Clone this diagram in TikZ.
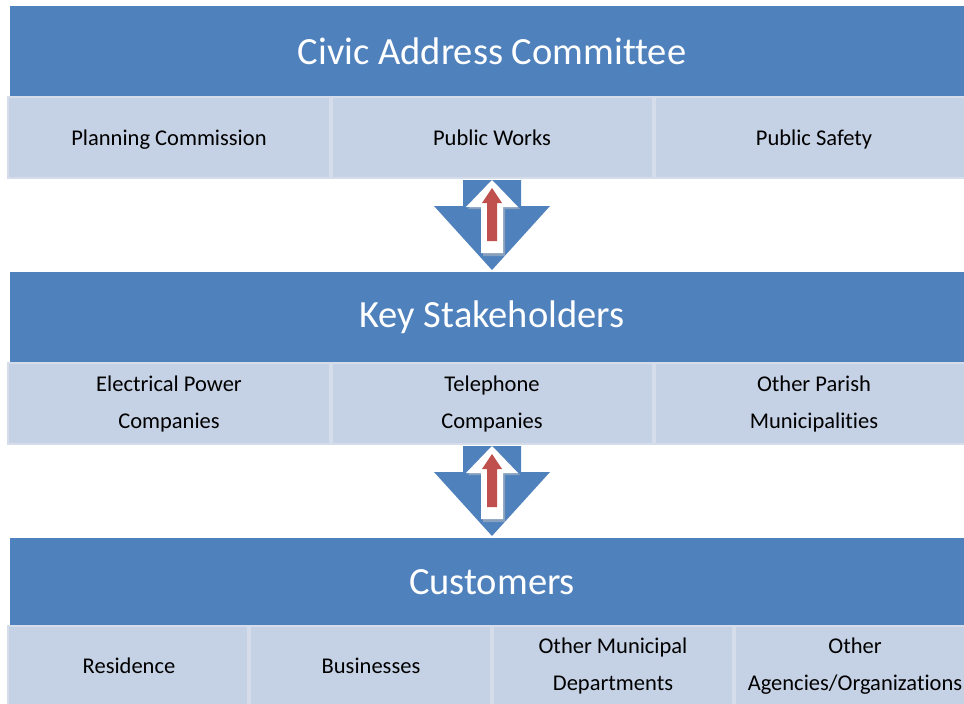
\documentclass[tikz,border=0pt]{standalone}
\usepackage{fontspec}
\setmainfont{Carlito}[Ligatures=NoCommon]
\definecolor{hdrblue}{HTML}{4F81BD}
\definecolor{cellfill}{HTML}{C5D1E4}
\definecolor{celledge}{HTML}{D5DDEB}
\definecolor{upred}{HTML}{C0504D}
\begin{document}
\begin{tikzpicture}[x=1pt,y=-1pt,
  header/.style={fill=hdrblue,draw=none},
  cell/.style={fill=cellfill,draw=celledge,line width=1.5pt},
  htext/.style={text=white,font=\fontsize{38.5}{44}\selectfont},
  ctext/.style={text=black,align=center,font=\fontsize{22.5}{37}\selectfont},
  cline/.style={ctext,anchor=base},
  pics/updown/.style={code={
    % blue downward block arrow
    \fill[hdrblue] (-29,0) -- (29,0) -- (29,26) -- (58,26) -- (0,90) -- (-58,26) -- (-29,26) -- cycle;
    % white upward arrow with soft shadow
    \fill[black!25,opacity=0.5] (2,2) -- (28,29) -- (13,29) -- (13,76) -- (-9,76) -- (-9,29) -- (-24,29) -- cycle;
    \fill[white] (0,0) -- (26,27) -- (11,27) -- (11,73) -- (-11,73) -- (-11,27) -- (-26,27) -- cycle;
    % red upward arrow inside
    \fill[upred] (0,8) -- (10,23) -- (5,23) -- (5,61) -- (-5,61) -- (-5,23) -- (-10,23) -- cycle;
  }}]
\fill[white] (0,0) rectangle (964,704);
\useasboundingbox (0,0) rectangle (964,704);

% ---- tier 1 ----
\fill[header] (10,6) rectangle (964,96);
\node[htext] (civic) at (492,51) {Civic Address Committee};
\draw[cell] (8,97) rectangle (330,178);
\draw[cell] (332,97) rectangle (653,178);
\draw[cell] (655,97) rectangle (966,178);
\node[cline] (plan) at (169,145) {Planning Commission};
\node[cline] (works) at (492,145) {Public Works};
\node[cline] (safety) at (814,145) {Public Safety};

% ---- arrows between tiers ----
\pic at (492,180) {updown};
\pic at (492,446) {updown};

% ---- tier 2 ----
\fill[header] (10,272) rectangle (964,362);
\node[htext] (key) at (492,317) {Key Stakeholders};
\draw[cell] (8,363) rectangle (330,444);
\draw[cell] (332,363) rectangle (653,444);
\draw[cell] (655,363) rectangle (966,444);
\node[ctext] (power) at (169,404) {Electrical Power\\Companies};
\node[ctext] (tel) at (492,404) {Telephone\\Companies};
\node[ctext] (parish) at (814,404) {Other Parish\\Municipalities};

% ---- tier 3 ----
\fill[header] (10,538) rectangle (964,625);
\node[htext] (cust) at (492,582) {Customers};
\draw[cell] (8,626) rectangle (248,710);
\draw[cell] (250,626) rectangle (491,710);
\draw[cell] (493,626) rectangle (733,710);
\draw[cell] (735,626) rectangle (966,710);
\node[cline] (res) at (129,673) {Residence};
\node[cline] (bus) at (371,673) {Businesses};
\node[ctext] (muni) at (613,666) {Other Municipal\\Departments};
\node[ctext] (agency) at (855,666) {Other\\Agencies/Organizations};
\end{tikzpicture}
\end{document}
